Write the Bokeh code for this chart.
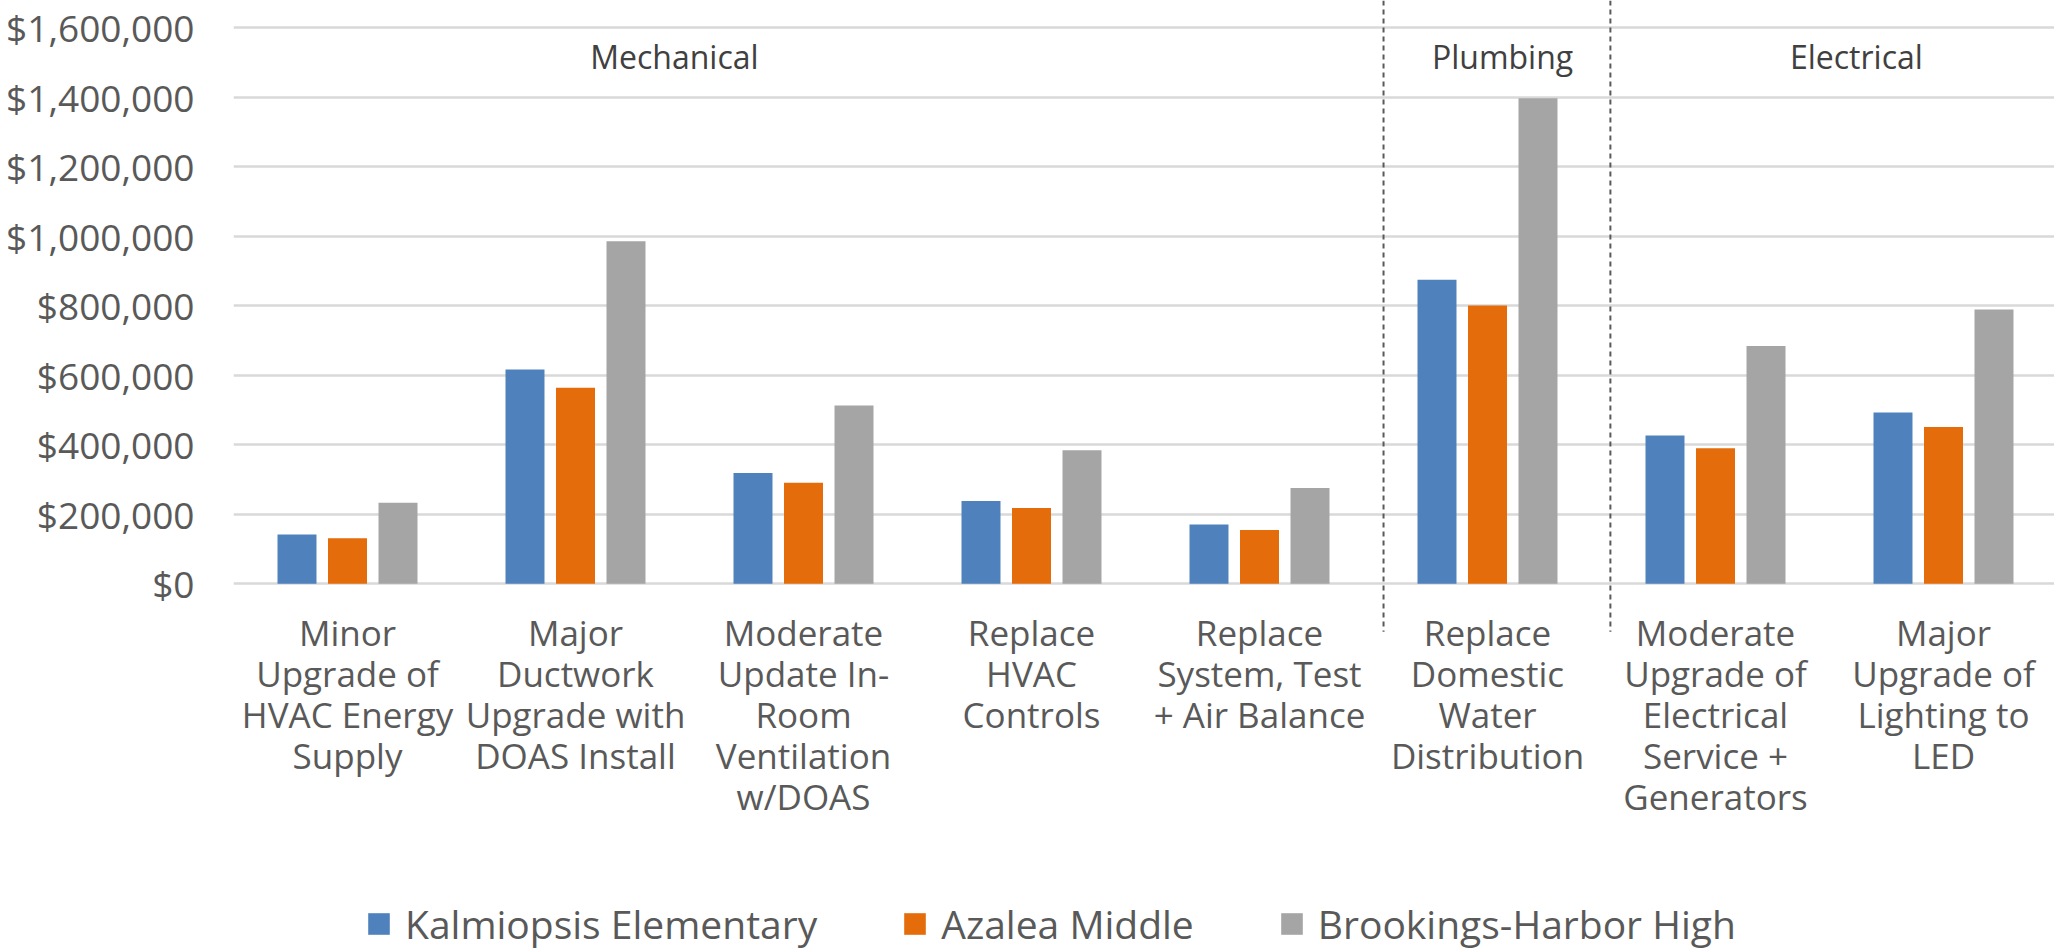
import numpy as np
from bokeh.plotting import figure
from bokeh.models import (Range1d, FixedTicker, NumeralTickFormatter, ColumnDataSource,
                          Legend, LegendItem)
from bokeh.transform import dodge
from bokeh.core.properties import value
from bokeh.embed import file_html
from bokeh.resources import INLINE

# ---------------- data ----------------
categories = [
    "Minor Upgrade of HVAC Energy Supply",
    "Major Ductwork Upgrade with DOAS Install",
    "Moderate Update In-Room Ventilation w/DOAS",
    "Replace HVAC Controls",
    "Replace System, Test + Air Balance",
    "Replace Domestic Water Distribution",
    "Moderate Upgrade of Electrical Service + Generators",
    "Major Upgrade of Lighting to LED",
]
category_labels = [
    "Minor\nUpgrade of\nHVAC Energy\nSupply",
    "Major\nDuctwork\nUpgrade with\nDOAS Install",
    "Moderate\nUpdate In-\nRoom\nVentilation\nw/DOAS",
    "Replace\nHVAC\nControls",
    "Replace\nSystem, Test\n+ Air Balance",
    "Replace\nDomestic\nWater\nDistribution",
    "Moderate\nUpgrade of\nElectrical\nService +\nGenerators",
    "Major\nUpgrade of\nLighting to\nLED",
]
kalmiopsis = [142000, 617000, 319000, 238000, 171000, 875000, 427000, 493000]
azalea = [131000, 564000, 291000, 218000, 155000, 801000, 390000, 451000]
brookings = [233000, 986000, 513000, 384000, 276000, 1397000, 684000, 789000]
series_names = ["Kalmiopsis Elementary", "Azalea Middle", "Brookings-Harbor High"]
sections = ["Mechanical", "Plumbing", "Electrical"]
y_ticks = [0, 200000, 400000, 600000, 800000, 1000000, 1200000, 1400000, 1600000]

# ---------------- layout / style ----------------
W, H = 2054, 950
LEFT = 233
PX_PER_CAT = 228.0
PX_PER_STEP = 69.5          # pixels per 200,000
ZERO_PX = 583.3             # y=0 position from figure top
UPP = 200000.0 / PX_PER_STEP  # data units per pixel

y_end = ZERO_PX * UPP
y_start = -(H - ZERO_PX) * UPP
x_end = (W - LEFT) / PX_PER_CAT

section_pos = [1.934, 5.566, 7.118]     # annotation positions (category units)
section_px_from_top = 56
separator_pos = [5.044, 6.039]
separator_below_px = 48

colors = ["#4F81BD", "#E46C0A", "#A5A5A5"]
offsets = [-0.2215, 0.0, 0.2215]
BAR_W = 0.171
TEXT = "#595959"
FONT = "Open Sans"

src = ColumnDataSource(dict(
    x=np.arange(len(categories)) + 0.5,
    cat=categories,
    label=category_labels,
    kalmiopsis=kalmiopsis,
    azalea=azalea,
    brookings=brookings,
))

p = figure(width=W, height=H, output_backend="svg", toolbar_location=None,
           x_range=Range1d(0, x_end), y_range=Range1d(y_start, y_end),
           min_border_left=LEFT, min_border_right=0, min_border_top=0, min_border_bottom=0)
p.outline_line_color = None
p.background_fill_color = "white"
p.border_fill_color = "white"

p.xaxis.visible = False
p.xgrid.visible = False

yax = p.yaxis[0]
yax.ticker = FixedTicker(ticks=y_ticks)
yax.formatter = NumeralTickFormatter(format="$0,0")
yax.axis_line_color = None
yax.major_tick_line_color = None
yax.minor_tick_line_color = None
yax.major_tick_in = 0
yax.major_tick_out = 0
yax.major_label_standoff = 39
yax.major_label_text_font = FONT
yax.major_label_text_font_size = "37px"
yax.major_label_text_color = TEXT

p.ygrid.ticker = FixedTicker(ticks=y_ticks)
p.ygrid.grid_line_color = "#D9D9D9"
p.ygrid.grid_line_width = 2.5

renderers = []
for col, c, off in zip(["kalmiopsis", "azalea", "brookings"], colors, offsets):
    r = p.vbar(x=dodge("x", off), top=col, bottom=0, width=BAR_W, source=src,
               fill_color=c, line_color=None)
    renderers.append(r)

# category labels under the axis
p.text(x="x", y=0, text="label", source=src, text_align="center", text_baseline="top",
       y_offset=25, text_font=value(FONT), text_font_size="35px", text_color=TEXT,
       text_line_height=0.875)

# section separators
sep_bottom = -separator_below_px * UPP
p.segment(x0=separator_pos, y0=[y_end] * len(separator_pos), x1=separator_pos,
          y1=[sep_bottom] * len(separator_pos), line_color="#595959", line_width=2,
          line_dash="5 4")

# section titles
sec_y = (ZERO_PX - section_px_from_top) * UPP
p.text(x=section_pos, y=[sec_y] * len(sections), text=sections, text_align="center",
       text_baseline="middle", text_font=value(FONT), text_font_size="32px",
       text_color="#404040")

legend = Legend(items=[LegendItem(label=n, renderers=[r]) for n, r in zip(series_names, renderers)],
                orientation="horizontal", location=(132, 0))
legend.glyph_width = 27
legend.glyph_height = 27
legend.label_standoff = 13
legend.spacing = 84
legend.padding = 0
legend.margin = 0
legend.border_line_color = None
legend.background_fill_alpha = 0
legend.label_text_font = FONT
legend.label_text_font_size = "39px"
legend.label_text_color = TEXT
p.add_layout(legend)

open("out.html", "w").write(file_html(p, INLINE))
